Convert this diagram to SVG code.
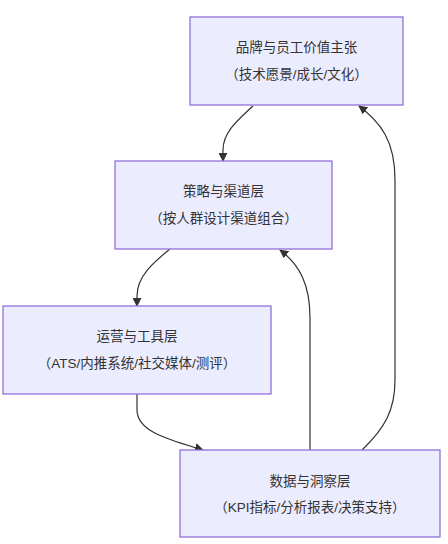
<svg xmlns="http://www.w3.org/2000/svg" width="448" height="544" viewBox="0 0 448 544">
<defs>
<style>
.node rect{fill:#ECECFF;stroke:#9370DB;stroke-width:1.3px}
.node text{font-family:"Liberation Sans","Noto Sans CJK SC",sans-serif;font-size:13.5px;fill:#333;text-anchor:middle}
.edge{fill:none;stroke:#333;stroke-width:1.2px;marker-end:url(#arr)}
</style>
<marker id="arr" viewBox="0 0 10 10" refX="9" refY="5" markerWidth="9" markerHeight="9" markerUnits="userSpaceOnUse" orient="auto">
<path d="M0,0 L10,5 L0,10 z" fill="#333"/>
</marker>
</defs>
<rect width="448" height="544" fill="#fff"/>
<g id="edges">
<path class="edge" d="M253,106 C238,120 223,132 223,150 L223,161"/>
<path class="edge" d="M170,249 C154,262 137,276 137,296 L137,306"/>
<path class="edge" d="M137,394 L137,410 C137,432 170,440 203,450"/>
<path class="edge" d="M310,450 L310,318 C310,285 300,265 280,250"/>
<path class="edge" d="M362,450 C385,428 395,410 395,380 L395,180 C395,140 380,122 359,106"/>
</g>
<g id="n1" class="node">
<rect x="190" y="17" width="213" height="88"/>
<text x="296.5" y="52">品牌与员工价值主张</text>
<text x="296.5" y="79">（技术愿景/成长/文化）</text>
</g>
<g id="n2" class="node">
<rect x="115" y="161" width="217" height="88"/>
<text x="223.5" y="196">策略与渠道层</text>
<text x="223.5" y="223">（按人群设计渠道组合）</text>
</g>
<g id="n3" class="node">
<rect x="3" y="306" width="268" height="88"/>
<text x="137" y="341">运营与工具层</text>
<text x="137" y="368">（ATS/内推系统/社交媒体/测评）</text>
</g>
<g id="n4" class="node">
<rect x="180" y="450" width="260" height="87"/>
<text x="310" y="486">数据与洞察层</text>
<text x="310" y="512">（KPI指标/分析报表/决策支持）</text>
</g>
</svg>
